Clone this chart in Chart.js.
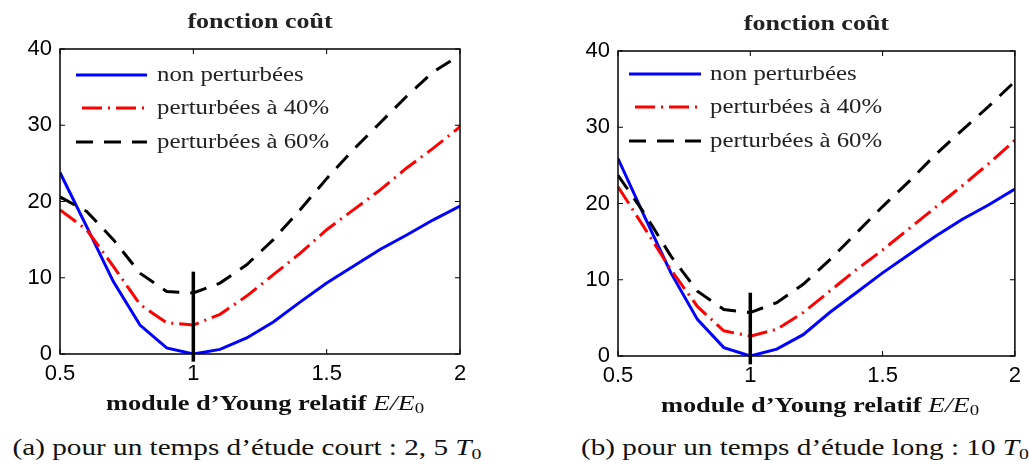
<!DOCTYPE html>
<html>
<head>
<meta charset="utf-8">
<script src="https://cdn.jsdelivr.net/npm/chart.js@4.4.1/dist/chart.umd.min.js"></script>
<style>
  body { margin: 0; background: #fff; width: 1029px; height: 466px; position: relative; overflow: hidden; }
  .box { position: absolute; }
  .xlab { position: absolute; font-family: "Liberation Serif", serif; font-weight: bold; font-size: 20px; color: #111; white-space: nowrap; transform: translate(-50%, -50%) scaleX(1.32); }
  .xlab i { font-weight: normal; font-size: 21px; }
  .cap { position: absolute; font-family: "Liberation Serif", serif; font-size: 23px; color: #111; white-space: nowrap; transform: translate(-50%, -50%) scaleX(1.27); }
  sub { font-size: 68%; vertical-align: -0.25em; font-style: normal; }
</style>
</head>
<body>
<div class="box" style="left:0;top:0"><canvas id="chartA" width="500" height="400"></canvas></div>
<div class="box" style="left:558px;top:2px"><canvas id="chartB" width="470" height="400"></canvas></div>

<div class="xlab" style="left:265px;top:404px">module d’Young relatif <i>E/E<sub>0</sub></i></div>
<div class="xlab" style="left:820px;top:406px">module d’Young relatif <i>E/E<sub>0</sub></i></div>
<div class="cap" style="left:247px;top:449px">(a) pour un temps d’étude court : 2, 5 <i>T</i><sub>0</sub></div>
<div class="cap" style="left:805px;top:449px">(b) pour un temps d’étude long : 10 <i>T</i><sub>0</sub></div>

<script>
// relative Young modulus E/E0
var xValues = [0.5, 0.6, 0.7, 0.8, 0.9, 1.0, 1.1, 1.2, 1.3, 1.4, 1.5, 1.6, 1.7, 1.8, 1.9, 2.0];

// (a) short study time 2,5 T0
var nonPertA = [23.8, 16.7, 9.5, 3.8, 0.8, 0.0, 0.6, 2.1, 4.2, 6.8, 9.3, 11.5, 13.7, 15.6, 17.6, 19.4];
var pert40A  = [18.9, 16.3, 11.5, 6.5, 4.1, 3.8, 5.2, 7.6, 10.4, 13.2, 16.3, 18.9, 21.5, 24.4, 27.0, 29.8];
var pert60A  = [20.6, 18.7, 15.0, 10.6, 8.2, 8.0, 9.3, 11.7, 15.0, 18.9, 23.0, 26.8, 30.3, 33.8, 37.0, 39.2];

// (b) long study time 10 T0
var nonPertB = [25.9, 18.3, 10.9, 4.8, 1.1, 0.0, 0.9, 2.8, 5.7, 8.3, 10.9, 13.3, 15.7, 17.9, 19.8, 21.9];
var pert40B  = [22.2, 16.8, 11.3, 6.5, 3.3, 2.6, 3.5, 5.7, 8.5, 11.3, 13.9, 16.7, 19.5, 22.3, 25.2, 28.3];
var pert60B  = [23.7, 18.7, 13.1, 8.5, 6.1, 5.7, 7.0, 9.4, 12.6, 16.1, 19.6, 22.9, 26.4, 29.6, 32.7, 36.0];

// vertical marker at E/E0 = 1
var markerX  = [1, 1];
var markerYA = [-1.0, 10.8];
var markerYB = [-1.1, 8.3];

var seriesLabels = ['non perturbées', 'perturbées à 40%', 'perturbées à 60%'];
var chartTitle = 'fonction coût';
var xTicks = [0.5, 1, 1.5, 2];
var yTicks = [0, 10, 20, 30, 40];

function pts(xs, ys) {
  var out = [];
  for (var i = 0; i < xs.length; i++) out.push({x: xs[i], y: ys[i]});
  return out;
}

// box around the plot with inward ticks (matlab style)
var boxPlugin = {
  id: 'boxTicks',
  afterDatasetsDraw: function (chart) {
    var ctx = chart.ctx, a = chart.chartArea;
    var xs = chart.scales.x, ys = chart.scales.y;
    ctx.save();
    ctx.strokeStyle = '#000';
    ctx.lineWidth = 1.5;
    ctx.strokeRect(a.left, a.top, a.right - a.left, a.bottom - a.top);
    ctx.lineWidth = 1;
    var len = 5;
    xTicks.forEach(function (v) {
      var px = xs.getPixelForValue(v);
      ctx.beginPath();
      ctx.moveTo(px, a.bottom); ctx.lineTo(px, a.bottom - len);
      ctx.moveTo(px, a.top); ctx.lineTo(px, a.top + len);
      ctx.stroke();
    });
    yTicks.forEach(function (v) {
      var py = ys.getPixelForValue(v);
      ctx.beginPath();
      ctx.moveTo(a.left, py); ctx.lineTo(a.left + len, py);
      ctx.moveTo(a.right, py); ctx.lineTo(a.right - len, py);
      ctx.stroke();
    });
    ctx.restore();
  }
};

// stretched serif text, to get near the wide TeX font
function wideText(ctx, txt, x, y, sx, align) {
  ctx.save();
  ctx.translate(x, y);
  ctx.scale(sx, 1);
  ctx.textAlign = align;
  ctx.fillText(txt, 0, 0);
  ctx.restore();
}

// legend drawn inside the plot area, top left + title
var innerLegend = {
  id: 'innerLegend',
  afterDraw: function (chart, args, opts) {
    var ctx = chart.ctx, a = chart.chartArea;
    ctx.save();
    ctx.textBaseline = 'middle';
    ctx.fillStyle = '#222';
    ctx.font = 'bold 20px "Liberation Serif"';
    wideText(ctx, chartTitle, (a.left + a.right) / 2, opts.titleY, 1.3, 'center');

    ctx.font = '20px "Liberation Serif"';
    for (var i = 0; i < 3; i++) {
      var ds = chart.data.datasets[i];
      var y = a.top + opts.rows[i];
      ctx.beginPath();
      ctx.strokeStyle = ds.borderColor;
      ctx.lineWidth = ds.borderWidth;
      ctx.setLineDash(ds.borderDash || []);
      ctx.lineDashOffset = ds.legendDashOffset || 0;
      ctx.moveTo(a.left + opts.x0, y);
      ctx.lineTo(a.left + opts.x1, y);
      ctx.stroke();
      wideText(ctx, ds.label, a.left + opts.tx, y + 1, 1.24, 'left');
    }
    ctx.restore();
  }
};

function makeChart(id, blue, red, black, markerY, legendOpts) {
  var datasets = [{
    label: seriesLabels[0],
    data: pts(xValues, blue),
    borderColor: '#0000ff',
    borderWidth: 3,
    order: 3
  }, {
    label: seriesLabels[1],
    data: pts(xValues, red),
    borderColor: '#ff0000',
    borderWidth: 3,
    borderDash: [20, 6, 2, 6],
    legendDashOffset: 28,
    order: 2
  }, {
    label: seriesLabels[2],
    data: pts(xValues, black),
    borderColor: '#000000',
    borderWidth: 3,
    borderDash: [17, 11],
    order: 1
  }, {
    label: 'marker',
    data: pts(markerX, markerY),
    borderColor: '#000000',
    borderWidth: 3.5,
    clip: false,
    order: 0
  }];

  return new Chart(document.getElementById(id), {
    type: 'line',
    data: { datasets: datasets },
    plugins: [boxPlugin, innerLegend],
    options: {
      responsive: false,
      animation: false,
      layout: { padding: { left: 0, right: legendOpts.padRight, top: 49, bottom: 0 } },
      elements: { point: { radius: 0 }, line: { tension: 0, fill: false } },
      plugins: {
        legend: { display: false },
        tooltip: { enabled: false },
        title: { display: false },
        innerLegend: legendOpts
      },
      scales: {
        x: {
          type: 'linear',
          min: 0.5,
          max: 2,
          afterFit: function (s) { s.height = 46; },
          afterBuildTicks: function (s) { s.ticks = xTicks.map(function (v) { return {value: v}; }); },
          grid: { display: false, drawTicks: false },
          border: { display: false },
          ticks: {
            padding: 7,
            color: '#000',
            font: { family: 'Liberation Sans', size: 22 },
            maxRotation: 0,
            callback: function (v) { return String(v); }
          }
        },
        y: {
          min: 0,
          max: 40,
          afterFit: function (s) { s.width = 60; },
          afterBuildTicks: function (s) { s.ticks = yTicks.map(function (v) { return {value: v}; }); },
          grid: { display: false, drawTicks: false },
          border: { display: false },
          ticks: {
            padding: 8,
            color: '#000',
            font: { family: 'Liberation Sans', size: 22 },
            callback: function (v) { return String(v); }
          }
        }
      }
    }
  });
}

makeChart('chartA', nonPertA, pert40A, pert60A, markerYA,
  { rows: [26, 59, 93], x0: 16, x1: 87, tx: 97, padRight: 40, titleY: 23 });
makeChart('chartB', nonPertB, pert40B, pert60B, markerYB,
  { rows: [23, 56, 90], x0: 11, x1: 83, tx: 92, padRight: 10, titleY: 23 });
</script>
</body>
</html>
